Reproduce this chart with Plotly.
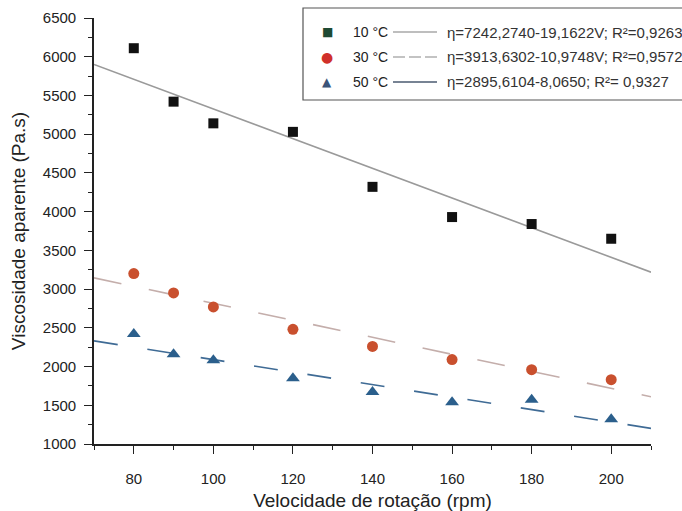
import plotly.graph_objects as go

# ---- data ----
rpm = [80, 90, 100, 120, 140, 160, 180, 200]
visc_10 = [6110, 5420, 5140, 5030, 4320, 3930, 3840, 3650]
visc_30 = [3200, 2950, 2770, 2480, 2260, 2090, 1960, 1830]
visc_50 = [2420, 2160, 2080, 1850, 1670, 1540, 1570, 1320]

series_names = ["10 °C", "30 °C", "50 °C"]
fit_a = [7242.2740, 3913.6302, 2895.6104]
fit_b = [-19.1622, -10.9748, -8.0650]
fit_labels = [
    "η=7242,2740-19,1622V; R²=0,9263",
    "η=3913,6302-10,9748V; R²=0,9572",
    "η=2895,6104-8,0650; R²= 0,9327",
]
fit_range = [70, 210]

x_title = "Velocidade de rotação (rpm)"
y_title = "Viscosidade aparente (Pa.s)"

# ---- styles ----
marker_symbols = ["square", "circle", "triangle-up"]
marker_colors = ["#111111", "#c9502e", "#2b5f8c"]
marker_sizes = [10, 11, 12]
legend_marker_colors = ["#1f4a33", "#d0302a", "#3b5478"]
legend_glyphs = ["■", "●", "▲"]
line_colors = ["#9a9a9a", "#c4aeab", "#3f6b95"]
line_dashes = ["solid", "28px,28px", "24px,30px"]
legend_line_colors = ["#a8a8a8", "#b0b0b0", "#4a5a70"]
legend_line_dashes = ["solid", "12px,4px", "solid"]

series_values = [visc_10, visc_30, visc_50]

fig = go.Figure()

for i in range(3):
    xs = fit_range
    ys = [fit_a[i] + fit_b[i] * v for v in xs]
    fig.add_trace(go.Scatter(
        x=xs, y=ys, mode="lines",
        line=dict(color=line_colors[i], width=1.6, dash=line_dashes[i]),
        showlegend=False, hoverinfo="skip",
    ))

for i in range(3):
    fig.add_trace(go.Scatter(
        x=rpm, y=series_values[i], mode="markers", name=series_names[i],
        marker=dict(symbol=marker_symbols[i], color=marker_colors[i],
                    size=marker_sizes[i], line=dict(width=0)),
        showlegend=False,
    ))

L, R, T, B = 94, 31, 18, 67
W, H = 682, 511
pw, ph = W - L - R, H - T - B

def px(xp):
    return (xp - L) / pw

def py(yp):
    return (H - B - yp) / ph

shapes = [dict(type="rect", xref="paper", yref="paper",
               x0=px(303), x1=px(700), y0=py(100), y1=py(8),
               line=dict(color="#555555", width=1.2), fillcolor="white", layer="above")]
annotations = []
row_y = [32, 57, 82]
for i in range(3):
    yy = py(row_y[i])
    annotations.append(dict(xref="paper", yref="paper", x=px(327), y=yy,
                            text=legend_glyphs[i], showarrow=False,
                            font=dict(size=12 if i != 1 else 14, color=legend_marker_colors[i],
                                      family="DejaVu Sans"),
                            xanchor="center", yanchor="middle"))
    annotations.append(dict(xref="paper", yref="paper", x=px(351), y=yy,
                            text=series_names[i], showarrow=False,
                            font=dict(size=14, color="#222222", family="Liberation Sans"),
                            xanchor="left", yanchor="middle"))
    shapes.append(dict(type="line", xref="paper", yref="paper",
                       x0=px(393), x1=px(437), y0=yy, y1=yy,
                       line=dict(color=legend_line_colors[i], width=1.3,
                                 dash=legend_line_dashes[i])))
    annotations.append(dict(xref="paper", yref="paper", x=px(445), y=yy,
                            text=fit_labels[i], showarrow=False,
                            font=dict(size=15, color="#333333", family="Liberation Sans"),
                            xanchor="left", yanchor="middle"))

fig.update_layout(
    width=W, height=H,
    margin=dict(l=L, r=R, t=T, b=B, pad=0, autoexpand=False),
    paper_bgcolor="white", plot_bgcolor="white",
    font=dict(family="Liberation Sans", color="#222222"),
    shapes=shapes, annotations=annotations,
    showlegend=False,
    xaxis=dict(
        range=[70, 210], dtick=20, tick0=0, showgrid=False, zeroline=False,
        automargin=False,
        showline=True, linecolor="#222222", linewidth=1.6,
        ticks="outside", ticklen=8, tickwidth=1.4, tickcolor="#222222",
        minor=dict(dtick=10, ticks="outside", ticklen=4, tickcolor="#222222", tickwidth=1.2),
        tickfont=dict(size=15, family="Liberation Sans", color="#222222"),
        ticklabelstandoff=12,
        title=dict(text=x_title, font=dict(size=19, family="Liberation Sans", color="#222222"),
                   standoff=13),
    ),
    yaxis=dict(
        range=[1000, 6500], dtick=500, tick0=0, showgrid=False, zeroline=False,
        automargin=False,
        showline=True, linecolor="#222222", linewidth=1.6,
        ticks="outside", ticklen=8, tickwidth=1.4, tickcolor="#222222",
        minor=dict(dtick=250, ticks="outside", ticklen=4, tickcolor="#222222", tickwidth=1.2),
        tickfont=dict(size=15, family="Liberation Sans", color="#222222"),
        ticklabelstandoff=5,
        title=dict(text=y_title, font=dict(size=19, family="Liberation Sans", color="#222222"),
                   standoff=12),
    ),
)

fig.write_html("out.html")
